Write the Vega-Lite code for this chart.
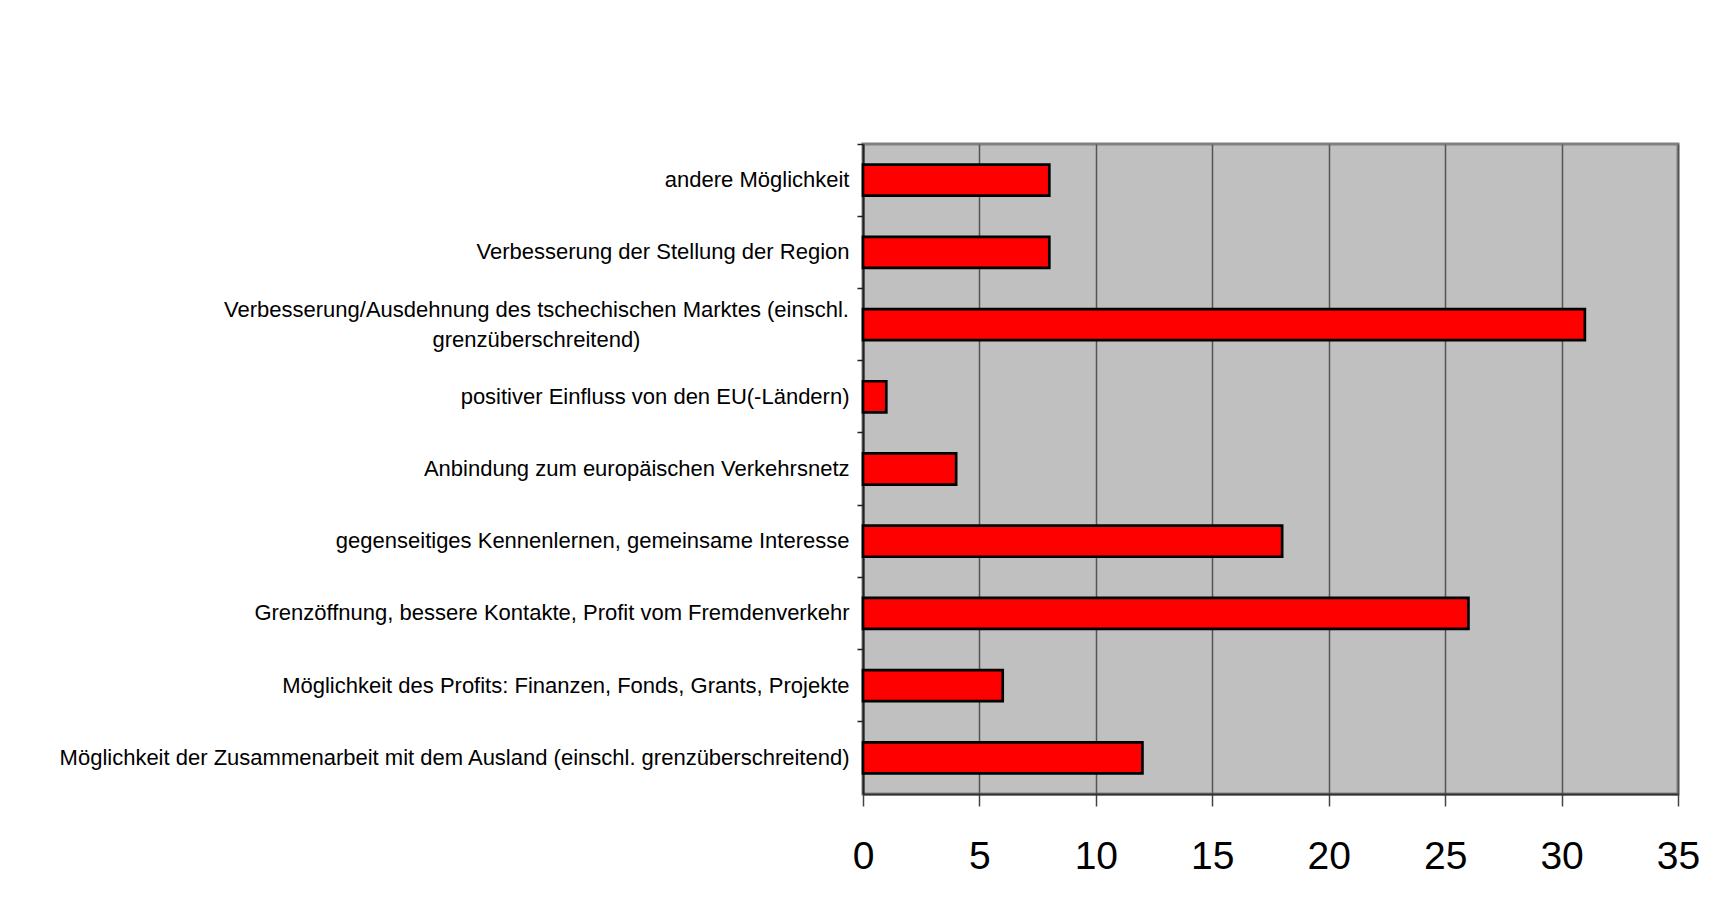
{
  "$schema": "https://vega.github.io/schema/vega-lite/v6.json",
  "autosize": {"type": "none"},
  "width": 815,
  "height": 650,
  "padding": {"left": 863, "top": 144, "right": 51, "bottom": 129},
  "background": "white",
  "data": {
    "values": [
      {"kategorie": "andere Möglichkeit", "anzahl": 8},
      {"kategorie": "Verbesserung der Stellung der Region", "anzahl": 8},
      {"kategorie": "Verbesserung/Ausdehnung des tschechischen Marktes (einschl. grenzüberschreitend)", "anzahl": 31},
      {"kategorie": "positiver Einfluss von den EU(-Ländern)", "anzahl": 1},
      {"kategorie": "Anbindung zum europäischen Verkehrsnetz", "anzahl": 4},
      {"kategorie": "gegenseitiges Kennenlernen, gemeinsame Interesse", "anzahl": 18},
      {"kategorie": "Grenzöffnung, bessere Kontakte, Profit vom Fremdenverkehr", "anzahl": 26},
      {"kategorie": "Möglichkeit des Profits: Finanzen, Fonds, Grants, Projekte", "anzahl": 6},
      {"kategorie": "Möglichkeit der Zusammenarbeit mit dem Ausland (einschl. grenzüberschreitend)", "anzahl": 12}
    ]
  },
  "mark": {"type": "bar", "color": "#ff0000", "stroke": "#000000", "strokeWidth": 2.7, "height": {"band": 0.43}},
  "encoding": {
    "y": {
      "field": "kategorie",
      "type": "nominal",
      "sort": null,
      "scale": {"paddingInner": 0, "paddingOuter": 0},
      "axis": {
        "title": null,
        "bandPosition": 0,
        "grid": false,
        "domainColor": "#222222",
        "domainWidth": 2,
        "tickColor": "#222222",
        "tickSize": 6,
        "tickWidth": 1.5,
        "labelFont": "Liberation Sans",
        "labelFontSize": 22,
        "labelColor": "#000000",
        "labelLimit": 0,
        "labelLineHeight": 30,
        "labelBaseline": "middle",
        "labelExpr": "indexof(datum.value, 'Marktes') >= 0 ? ['Verbesserung/Ausdehnung des tschechischen Marktes (einschl.', 'grenzüberschreitend)'] : datum.label",
        "labelAlign": {"condition": {"test": "indexof(datum.value, 'Marktes') >= 0", "value": "center"}, "value": "right"},
        "labelPadding": {"condition": {"test": "indexof(datum.value, 'Marktes') >= 0", "value": 321}, "value": 8},
        "labelOffset": {"condition": {"test": "indexof(datum.value, 'Marktes') >= 0", "value": -15}, "value": 0}
      }
    },
    "x": {
      "field": "anzahl",
      "type": "quantitative",
      "scale": {"domain": [0, 35], "nice": false},
      "axis": {
        "title": null,
        "values": [0, 5, 10, 15, 20, 25, 30, 35],
        "grid": true,
        "gridColor": "#555555",
        "gridWidth": 1.5,
        "domainColor": "#333333",
        "domainWidth": 2,
        "tickColor": "#444444",
        "tickSize": 12,
        "tickWidth": 1.5,
        "labelFont": "Liberation Sans",
        "labelFontSize": 39,
        "labelColor": "#000000",
        "labelPadding": 31,
        "labelFlush": false
      }
    }
  },
  "config": {
    "view": {"fill": "#c0c0c0", "stroke": "#808080", "strokeWidth": 3}
  }
}
